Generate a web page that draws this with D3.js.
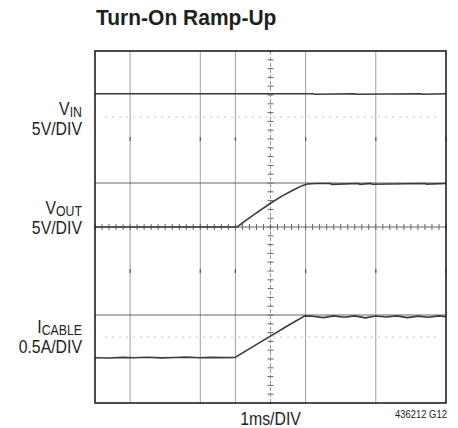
<!DOCTYPE html>
<html>
<head>
<meta charset="utf-8">
<script src="https://cdn.jsdelivr.net/npm/d3@7"></script>
<style>
  html, body { margin: 0; padding: 0; background: #fff; }
  svg { display: block; }
  text { font-family: "Liberation Sans", Arial, sans-serif; fill: #231f20; }
</style>
</head>
<body>
<svg id="chart" width="458" height="428"></svg>
<script>
// time in ms (1ms/DIV, 10 divisions)
const vinTime = [0, 1.5, 6.2, 6.25, 7.4, 7.45, 9.3, 9.35, 10]
const vinVolts = [5.14, 5.14, 5.14, 5.08, 5.14, 5.08, 5.14, 5.08, 5.14]

const voutTime = [0, 4.05, 4.3, 4.6, 5.0, 5.3, 5.65, 5.9, 6.05, 6.3, 6.7, 6.75, 7.5, 7.55, 7.85, 7.9, 9.4, 9.45, 10]
const voutVolts = [0, 0, 0.75, 1.6, 2.7, 3.45, 4.2, 4.7, 4.88, 4.95, 4.95, 4.85, 4.95, 4.85, 4.95, 4.85, 4.95, 4.87, 4.95]

const icableTime = [0, 0.4, 0.8, 1.1, 1.5, 1.9, 2.3, 2.6, 3.0, 3.3, 3.6, 3.99, 4.5, 5.0, 5.5, 5.98,
  6.2, 6.5, 6.8, 7.1, 7.4, 7.7, 8.0, 8.3, 8.6, 8.9, 9.2, 9.5, 9.8, 10]
const icableAmps = [0.015, 0.012, 0.018, 0.014, 0.02, 0.013, 0.017, 0.021, 0.015, 0.018, 0.016, 0.017, 0.14, 0.26, 0.38, 0.49,
  0.485, 0.47, 0.49, 0.475, 0.49, 0.468, 0.488, 0.478, 0.49, 0.47, 0.487, 0.475, 0.49, 0.48]

// channel setup: units per division and ground offset in divisions
const channels = [
  { name: 'IN', label: 'V', scale: '5V/DIV', perDiv: 5, offset: 2, time: vinTime, values: vinVolts },
  { name: 'OUT', label: 'V', scale: '5V/DIV', perDiv: 5, offset: 0, time: voutTime, values: voutVolts },
  { name: 'CABLE', label: 'I', scale: '0.5A/DIV', perDiv: 0.5, offset: -3, time: icableTime, values: icableAmps }
]

const vGrid = [1, 3, 4, 6, 8]
const hGrid = [1, -2]
const hDotted = [2.5, -2.5]
const hMarks = [2, -1]

const svg = d3.select('#chart')
const x = d3.scaleLinear().domain([0, 10]).range([95, 446])
const y = d3.scaleLinear().domain([-4, 4]).range([403, 51])

// narrow text: squeeze Liberation Sans horizontally
function narrowText(px, py, size, anchor, sx) {
  return svg.append('text')
    .attr('transform', `translate(${px},${py}) scale(${sx},1)`)
    .attr('text-anchor', anchor)
    .attr('font-size', size)
}

narrowText(96, 25, 22, 'start', 0.955)
  .attr('font-weight', 'bold')
  .text('Turn-On Ramp-Up')

const grid = svg.append('g')

grid.selectAll('.vg').data(vGrid).join('line')
  .attr('x1', d => x(d)).attr('x2', d => x(d))
  .attr('y1', y(4)).attr('y2', y(-4))
  .attr('stroke', '#a0a0a0').attr('stroke-width', 1)

grid.selectAll('.hg').data(hGrid).join('line')
  .attr('x1', x(0)).attr('x2', x(10))
  .attr('y1', d => y(d)).attr('y2', d => y(d))
  .attr('stroke', '#666').attr('stroke-width', 1)

grid.selectAll('.hd').data(hDotted).join('line')
  .attr('x1', x(0.3)).attr('x2', x(9.8))
  .attr('y1', d => y(d)).attr('y2', d => y(d))
  .attr('stroke', '#888').attr('stroke-width', 1)
  .attr('stroke-dasharray', '1,6')

// short marks where the missing horizontal lines cross the verticals
const markPts = []
vGrid.concat([10]).forEach(v => hMarks.forEach(h => markPts.push([v, h])))
grid.selectAll('.mk').data(markPts).join('line')
  .attr('x1', d => x(d[0])).attr('x2', d => x(d[0]))
  .attr('y1', d => y(d[1]) - 2).attr('y2', d => y(d[1]) + 2)
  .attr('stroke', '#555').attr('stroke-width', 1.2)

// center axes with minor ticks
grid.append('line')
  .attr('x1', x(5)).attr('x2', x(5)).attr('y1', y(4)).attr('y2', y(-4))
  .attr('stroke', '#999').attr('stroke-dasharray', '4,2')
grid.append('line')
  .attr('x1', x(0)).attr('x2', x(10)).attr('y1', y(0)).attr('y2', y(0))
  .attr('stroke', '#666')

const yTicks = d3.range(-4, 4.01, 0.2)
grid.selectAll('.yt').data(yTicks).join('line')
  .attr('x1', x(5) - 3).attr('x2', x(5) + 3)
  .attr('y1', d => y(d)).attr('y2', d => y(d))
  .attr('stroke', '#666').attr('stroke-width', 1)

const xTicks = d3.range(0, 10.01, 0.2)
grid.selectAll('.xt').data(xTicks).join('line')
  .attr('x1', d => x(d)).attr('x2', d => x(d))
  .attr('y1', y(0) - 3).attr('y2', y(0) + 3)
  .attr('stroke', '#666').attr('stroke-width', 1)

// traces
const line = d3.line()
channels.forEach(ch => {
  const pts = ch.time.map((t, i) => [x(t), y(ch.offset + ch.values[i] / ch.perDiv)])
  svg.append('path')
    .attr('d', line(pts))
    .attr('fill', 'none')
    .attr('stroke', '#3a3a3a')
    .attr('stroke-width', 1.6)
})

// frame
svg.append('rect')
  .attr('x', x(0)).attr('y', y(4))
  .attr('width', x(10) - x(0)).attr('height', y(-4) - y(4))
  .attr('fill', 'none').attr('stroke', '#231f20').attr('stroke-width', 1.6)

// channel labels
const labelY = [115, 214, 333]
channels.forEach((ch, i) => {
  const t = narrowText(82, labelY[i], 18, 'end', 0.88)
  t.append('tspan').text(ch.label)
  t.append('tspan').attr('font-size', 14).attr('dy', 2).text(ch.name)
  narrowText(82, labelY[i] + 20, 18, 'end', 0.88).text(ch.scale)
})

narrowText(x(5), 425, 18, 'middle', 0.88).text('1ms/DIV')
narrowText(447, 418, 11, 'end', 0.86).text('436212 G12')
</script>
</body>
</html>
